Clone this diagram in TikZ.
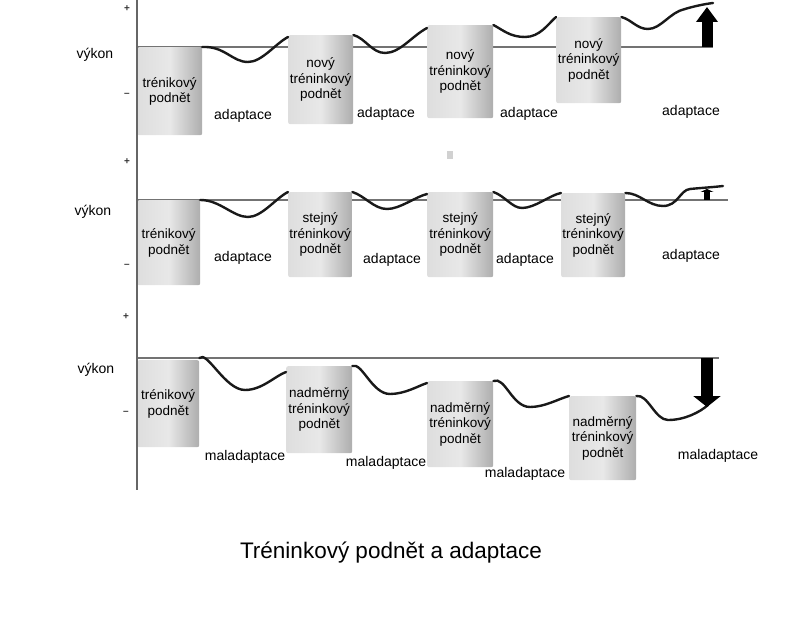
\documentclass[tikz,border=0pt]{standalone}
\usepackage{fontspec}
\setmainfont{Liberation Sans}
\usetikzlibrary{arrows.meta}
\tikzset{
  pblk/.style={anchor=north west, rounded corners=2pt, align=center, inner sep=0pt,
               left color=black!13, right color=black!32, middle color=black!9,
               font=\fontsize{13.5}{15.5}\selectfont},
  plbl/.style={font=\fontsize{14}{16}\selectfont},
  ptck/.style={font=\bfseries\fontsize{10}{11}\selectfont, text=black!80},
  pcrv/.style={line width=2.4pt, line cap=round, black!90},
  pbase/.style={line width=1.4pt, black!55},
  parr/.style={line width=11pt, -{Triangle[width=21pt, length=15pt]}},
}

\begin{document}
\begin{tikzpicture}[x=1pt, y=-1pt]
  \useasboundingbox (0,0) rectangle (792,620);
  % osa
  \coordinate (ax0) at (137,0);
  \coordinate (ax1) at (137,490);

  % 1. novy podnet
  \coordinate (l1a) at (137,47);
  \coordinate (l1b) at (713,47);
  \draw[pbase] (l1a) -- (l1b);
  \node[pblk, minimum width=65pt, minimum height=88pt](p1a) at (137,47){trénikový\\podnět};
  \node[pblk, minimum width=65pt, minimum height=89pt](p1b) at (288,35){nový\\tréninkový\\podnět};
  \node[pblk, minimum width=66pt, minimum height=93pt](p1c) at (427,25){nový\\tréninkový\\podnět};
  \node[pblk, minimum width=65pt, minimum height=86pt](p1d) at (556,17){nový\\tréninkový\\podnět};
  \coordinate (p1e) at (713,3);
  \draw[pcrv] (p1a.north east) .. controls (225,46) and (232,62) .. (248,62)
     .. controls (262,62) and (275,44) .. ([yshift=-2pt]p1b.north west);
  \draw[pcrv] (p1b.north east) .. controls (365,38) and (372,53) .. (385,53)
     .. controls (400,53) and (412,36) .. ([yshift=-3pt]p1c.north west);
  \draw[pcrv] (p1c.north east) .. controls (503,30) and (510,37) .. (525,37)
     .. controls (540,37) and (548,24) .. (p1d.north west);
  \draw[pcrv] (p1d.north east) .. controls (632,20) and (637,29) .. (648,29)
     .. controls (661,29) and (670,12) .. (685,9) .. controls (695,6) and (705,4) .. (p1e);
  \coordinate (u1a) at (707,47);
  \coordinate (u1b) at (707,7);
  \draw[parr] (u1a) -- (u1b);
  \node[plbl](v1) at (95,55){výkon};
  \node[ptck](t1p) at (127,9){+};
  \node[ptck](t1m) at (127,95){–};
  \node[plbl](d1a) at (243,116){adaptace};
  \node[plbl](d1b) at (386,114){adaptace};
  \node[plbl](d1c) at (529,114){adaptace};
  \node[plbl](d1d) at (691,112){adaptace};

  % 2. stejny podnet
  \coordinate (l2a) at (137,200);
  \coordinate (l2b) at (728,200);
  \draw[pbase] (l2a) -- (l2b);
  \node[pblk, minimum width=63pt, minimum height=85pt](p2a) at (137,200){trénikový\\podnět};
  \node[pblk, minimum width=64pt, minimum height=85pt](p2b) at (288,192){stejný\\tréninkový\\podnět};
  \node[pblk, minimum width=66pt, minimum height=85pt](p2c) at (427,192){stejný\\tréninkový\\podnět};
  \node[pblk, minimum width=64pt, minimum height=84pt](p2d) at (561,193){stejný\\tréninkový\\podnět};
  \coordinate (p2e) at (723,186);
  \draw[pcrv] (p2a.north east) .. controls (220,200) and (233,217) .. (248,217)
     .. controls (262,217) and (276,198) .. (p2b.north west);
  \draw[pcrv] (p2b.north east) .. controls (365,196) and (374,209) .. (387,209)
     .. controls (400,209) and (415,197) .. ([yshift=-2pt]p2c.north west);
  \draw[pcrv] (p2c.north east) .. controls (505,196) and (512,208) .. (522,208)
     .. controls (535,208) and (550,195) .. (p2d.north west);
  \draw[pcrv] (p2d.north east) .. controls (640,193) and (648,206) .. (663,206)
     .. controls (678,206) and (680,190) .. (690,189) .. controls (700,188) and (715,187) .. (p2e);
  \coordinate (u2a) at (707,200);
  \coordinate (u2b) at (707,189);
  \draw[line width=6pt, -{Triangle[width=13pt, length=3pt]}] (u2a) -- (u2b);
  \fill[black!18] (447,151) rectangle (453,159);
  \node[plbl](v2) at (93,212){výkon};
  \node[ptck](t2p) at (127,162){+};
  \node[ptck](t2m) at (127,266){–};
  \node[plbl](d2a) at (243,258){adaptace};
  \node[plbl](d2b) at (392,260){adaptace};
  \node[plbl](d2c) at (525,260){adaptace};
  \node[plbl](d2d) at (691,256){adaptace};

  % 3. nadmerny podnet
  \coordinate (l3a) at (137,358);
  \coordinate (l3b) at (719,358);
  \draw[pbase] (l3a) -- (l3b);
  \node[pblk, minimum width=62pt, minimum height=87pt](p3a) at (137,360){trénikový\\podnět};
  \node[pblk, minimum width=66pt, minimum height=87pt](p3b) at (286,366){nadměrný\\tréninkový\\podnět};
  \node[pblk, minimum width=66pt, minimum height=86pt](p3c) at (427,381){nadměrný\\tréninkový\\podnět};
  \node[pblk, minimum width=67pt, minimum height=84pt](p3d) at (569,396){nadměrný\\tréninkový\\podnět};
  \coordinate (p3e) at (708,405);
  \draw[pcrv] ([yshift=2pt]p3a.north east) .. controls (207,350) and (225,390) .. (245,390)
     .. controls (262,390) and (275,376) .. ([yshift=-6pt]p3b.north west);
  \draw[pcrv] (p3b.north east) .. controls (362,362) and (372,394) .. (390,394)
     .. controls (405,394) and (418,386) .. ([yshift=-2pt]p3c.north west);
  \draw[pcrv] (p3c.north east) .. controls (505,376) and (512,407) .. (530,407)
     .. controls (545,407) and (558,399) .. (p3d.north west);
  \draw[pcrv] (p3d.north east) .. controls (648,394) and (655,420) .. (668,420)
     .. controls (685,420) and (700,412) .. (p3e);
  \coordinate (u3a) at (707,358);
  \coordinate (u3b) at (707,407);
  \draw[line width=12pt, -{Triangle[width=27pt, length=11pt]}] (u3a) -- (u3b);
  \node[plbl](v3) at (96,370){výkon};
  \node[ptck](t3p) at (126,317){+};
  \node[ptck](t3m) at (126,413){–};
  \node[plbl](d3a) at (245,457){maladaptace};
  \node[plbl](d3b) at (386,463){maladaptace};
  \node[plbl](d3c) at (525,474){maladaptace};
  \node[plbl](d3d) at (718,456){maladaptace};

  \draw[line width=2pt, black!60] (ax0) -- (ax1);
  \node[font=\fontsize{22.5}{25}\selectfont](tt) at (391,553){Tréninkový podnět a adaptace};
\end{tikzpicture}
\end{document}
